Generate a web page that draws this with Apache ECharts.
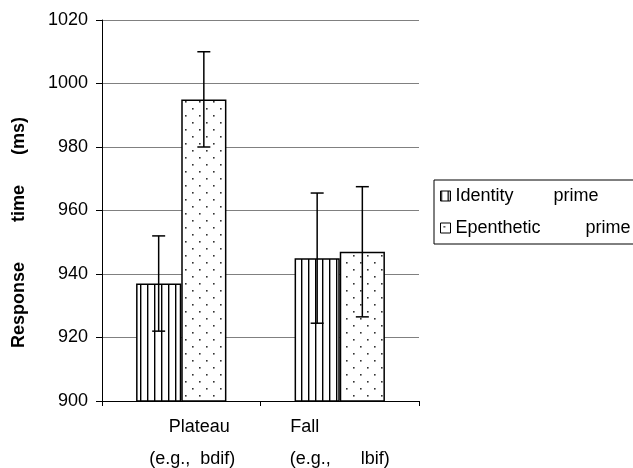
<!DOCTYPE html>
<html>
<head>
<meta charset="utf-8">
<script src="https://cdn.jsdelivr.net/npm/echarts@6/dist/echarts.min.js"></script>
<style>html,body{margin:0;padding:0;background:#fff}#c{width:633px;height:468px}</style>
</head>
<body>
<div id="c"></div>
<script>
const categories = ['Plateau', 'Fall'];
const categorySubLabels = ['(e.g.,  bdif)', '(e.g.,      lbif)'];
const seriesNames = ['Identity        prime', 'Epenthetic         prime'];
const identityMean = [937, 945];
const identityErr = [15, 20.5];
const epentheticMean = [995, 947];
const epentheticErr = [15, 20.5];
const yTicks = [900, 920, 940, 960, 980, 1000, 1020];

function makeTile(kind) {
  const c = document.createElement('canvas');
  const ctx = c.getContext('2d');
  if (kind === 'lines') {
    c.width = 7; c.height = 7;
    ctx.fillStyle = '#fff'; ctx.fillRect(0, 0, 7, 7);
    ctx.fillStyle = '#000'; ctx.fillRect(0, 0, 1.4, 7);
  } else {
    c.width = 14; c.height = 14;
    ctx.fillStyle = '#fff'; ctx.fillRect(0, 0, 14, 14);
    ctx.fillStyle = '#333';
    ctx.fillRect(3, 3, 1.6, 1.6);
    ctx.fillRect(10, 10, 1.6, 1.6);
  }
  return c;
}
const linePattern = { image: makeTile('lines'), repeat: 'repeat' };
const dotPattern = { image: makeTile('dots'), repeat: 'repeat' };

const BAR_FRAC = 0.285;
const errData = [];
identityMean.forEach((m, i) => errData.push([i, m - identityErr[i], m + identityErr[i], 0]));
epentheticMean.forEach((m, i) => errData.push([i, m - epentheticErr[i], m + epentheticErr[i], 1]));

const FS = 18;
const chart = echarts.init(document.getElementById('c'), null, { renderer: 'canvas' });
chart.setOption({
  animation: false,
  backgroundColor: '#fff',
  textStyle: { fontFamily: 'Liberation Sans, Arial, sans-serif' },
  grid: { left: 102, right: 214, top: 20, bottom: 67, containLabel: false },
  legend: {
    orient: 'vertical',
    left: 434, top: 180,
    padding: [7, 60, 7, 6],
    itemGap: 14,
    itemWidth: 10, itemHeight: 10,
    icon: 'rect',
    itemStyle: { borderWidth: 1, borderColor: '#000' },
    borderColor: '#000', borderWidth: 1,
    textStyle: { fontSize: FS, color: '#000' },
    data: seriesNames
  },
  xAxis: {
    type: 'category',
    data: categories,
    axisLine: { lineStyle: { color: '#000', width: 1 } },
    axisTick: { show: true, length: 5, interval: 0, lineStyle: { color: '#000' } },
    axisLabel: {
      interval: 0, margin: 10, color: '#000', fontSize: FS,
      formatter: (v, i) => i === 0 ? '{p1|' + v + '}\n{p2|' + categorySubLabels[i] + '}'
                                   : '{f1|' + v + '}\n{f2|' + categorySubLabels[i] + '}',
      rich: {
        p1: { fontSize: FS, color: '#000', lineHeight: 32, padding: [0, 0, 0, 36] },
        p2: { fontSize: FS, color: '#000', lineHeight: 32, padding: [0, 0, 0, 22] },
        f1: { fontSize: FS, color: '#000', lineHeight: 32, padding: [0, 70, 0, 0] },
        f2: { fontSize: FS, color: '#000', lineHeight: 32, padding: [0, 0, 0, 0] }
      }
    },
    splitLine: { show: false }
  },
  yAxis: {
    type: 'value',
    min: 900, max: 1020, interval: 20,
    name: 'Response        time      (ms)',
    nameLocation: 'middle',
    nameGap: 74,
    nameTextStyle: { fontSize: 18, fontWeight: 'bold', color: '#000', padding: [0, 44, 0, 0] },
    axisLine: { show: true, lineStyle: { color: '#000', width: 1 } },
    axisTick: { show: true, length: 6, lineStyle: { color: '#000' } },
    axisLabel: { color: '#000', fontSize: FS, margin: 14,
      formatter: v => yTicks.indexOf(v) >= 0 ? String(v) : '' },
    splitLine: { show: true, lineStyle: { color: '#808080', width: 1 } }
  },
  series: [
    {
      name: seriesNames[0], type: 'bar', data: identityMean,
      barWidth: (BAR_FRAC * 100) + '%', barGap: '0%',
      itemStyle: { color: linePattern, borderColor: '#000', borderWidth: 1.5 }
    },
    {
      name: seriesNames[1], type: 'bar', data: epentheticMean,
      barWidth: (BAR_FRAC * 100) + '%', barGap: '0%',
      itemStyle: { color: dotPattern, borderColor: '#000', borderWidth: 1.5 }
    },
    {
      type: 'custom', data: errData, z: 10, silent: true,
      encode: { x: 0, y: [1, 2] },
      renderItem: function (params, api) {
        const cat = api.value(0), lo = api.value(1), hi = api.value(2), s = api.value(3);
        const band = api.size([1, 0])[0];
        const off = (s === 0 ? -1 : 1) * band * BAR_FRAC / 2;
        const pLo = api.coord([cat, lo]);
        const pHi = api.coord([cat, hi]);
        const x = pLo[0] + off;
        const cap = 6.5;
        const style = { stroke: '#000', lineWidth: 1.5 };
        return {
          type: 'group',
          children: [
            { type: 'line', shape: { x1: x, y1: pLo[1], x2: x, y2: pHi[1] }, style },
            { type: 'line', shape: { x1: x - cap, y1: pLo[1], x2: x + cap, y2: pLo[1] }, style },
            { type: 'line', shape: { x1: x - cap, y1: pHi[1], x2: x + cap, y2: pHi[1] }, style }
          ]
        };
      }
    }
  ]
});
</script>
</body>
</html>
